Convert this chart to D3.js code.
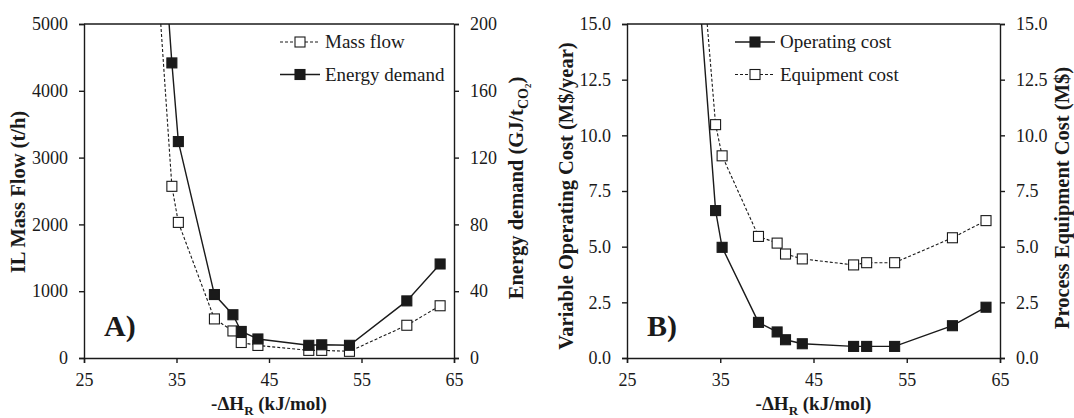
<!DOCTYPE html>
<html><head><meta charset="utf-8">
<script src="https://cdn.jsdelivr.net/npm/d3@7"></script>
<style>
body{margin:0;background:#fff}
svg{font-family:"Liberation Serif","Times New Roman",serif}
</style>
</head><body>
<svg id="c" width="1074" height="418"></svg>
<script>
// ---- data ----
const dH = [34.5, 35.2, 39.1, 41.1, 42.0, 43.8, 49.3, 50.7, 53.7, 59.9, 63.5]; // -ΔH_R (kJ/mol)
const massFlow = [2570, 2030, 585, 405, 232, 188, 114, 114, 100, 490, 782];      // t/h
const energyDemand = [176.7, 129.6, 38.0, 25.9, 15.9, 11.4, 7.6, 7.9, 7.6, 34.2, 56.3]; // GJ/tCO2
const operatingCost = [6.62, 4.97, 1.60, 1.17, 0.82, 0.64, 0.52, 0.52, 0.52, 1.45, 2.28]; // M$/year
const equipmentCost = [10.48, 9.08, 5.46, 5.16, 4.67, 4.45, 4.18, 4.28, 4.28, 5.40, 6.17]; // M$
// where each curve leaves the top of the frame (x, y at the top)
const massFlowExit = [33.3, 5000];
const energyDemandExit = [34.2, 200];
const operatingCostExit = [33.0, 15];
const equipmentCostExit = [33.6, 15];

const xTicks = [25, 35, 45, 55, 65];
const massTicks = [0, 1000, 2000, 3000, 4000, 5000];
const energyTicks = [0, 40, 80, 120, 160, 200];
const costTicks = [0, 2.5, 5, 7.5, 10, 12.5, 15];

const svg = d3.select("#c");
const INK = "#1a1a1a";
const MS = 10; // marker size

function panel(cfg) {
  const g = svg.append("g");
  const x = d3.scaleLinear().domain([25, 65]).range([cfg.left, cfg.right]);
  const yL = d3.scaleLinear().domain(cfg.yLDomain).range([cfg.bottom, cfg.top]);
  const yR = d3.scaleLinear().domain(cfg.yRDomain).range([cfg.bottom, cfg.top]);

  const clipId = "clip" + cfg.id;
  svg.append("clipPath").attr("id", clipId).append("rect")
    .attr("x", cfg.left).attr("y", cfg.top)
    .attr("width", cfg.right - cfg.left).attr("height", cfg.bottom - cfg.top);

  // axes
  const ax = g.append("g").attr("transform", `translate(0,${cfg.bottom})`)
    .call(d3.axisBottom(x).tickValues(xTicks).tickSizeOuter(0).tickSize(5).tickPadding(10));
  const al = g.append("g").attr("transform", `translate(${cfg.left},0)`)
    .call(d3.axisLeft(yL).tickValues(cfg.yLTicks).tickFormat(cfg.fmtL).tickSizeOuter(0).tickSize(5).tickPadding(11));
  const ar = g.append("g").attr("transform", `translate(${cfg.right},0)`)
    .call(d3.axisRight(yR).tickValues(cfg.yRTicks).tickFormat(cfg.fmtR).tickSizeOuter(0).tickSize(5).tickPadding(11));
  g.append("line").attr("x1", cfg.left).attr("x2", cfg.right)
    .attr("y1", cfg.top).attr("y2", cfg.top).attr("stroke", INK).attr("stroke-width", 1.4);
  [ax, al, ar].forEach(a => {
    a.selectAll("path.domain").attr("stroke", INK).attr("stroke-width", 1.4);
    a.selectAll(".tick line").attr("stroke", INK).attr("stroke-width", 1.4);
    a.selectAll(".tick text").attr("fill", INK).style("font-size", "18px")
      .style("font-family", '"Liberation Serif",serif');
  });

  // series
  const plot = g.append("g").attr("clip-path", `url(#${clipId})`);
  cfg.series.forEach(s => {
    const y = s.side === "L" ? yL : yR;
    const pts = [[s.exit[0], s.exit[1]]].concat(dH.map((d, i) => [d, s.values[i]]));
    plot.append("path").datum(pts)
      .attr("fill", "none").attr("stroke", INK)
      .attr("stroke-width", s.filled ? 1.4 : 1.1)
      .attr("stroke-dasharray", s.filled ? null : "3,2")
      .attr("d", d3.line().x(d => x(d[0])).y(d => y(d[1])));
  });
  cfg.series.forEach(s => {
    const y = s.side === "L" ? yL : yR;
    g.append("g").selectAll("rect").data(dH.map((d, i) => [d, s.values[i]])).join("rect")
      .attr("x", d => x(d[0]) - MS / 2).attr("y", d => y(d[1]) - MS / 2)
      .attr("width", MS).attr("height", MS)
      .attr("fill", s.filled ? INK : "#fff").attr("stroke", INK).attr("stroke-width", 1.1);
  });

  // legend
  cfg.series.forEach((s, i) => {
    const ly = cfg.legendY + i * 32.5;
    const lg = g.append("g");
    lg.append("line").attr("x1", cfg.legendX).attr("x2", cfg.legendX + 40)
      .attr("y1", ly).attr("y2", ly).attr("stroke", INK)
      .attr("stroke-width", s.filled ? 1.4 : 1.1).attr("stroke-dasharray", s.filled ? null : "3,2");
    lg.append("rect").attr("x", cfg.legendX + 20 - MS / 2).attr("y", ly - MS / 2)
      .attr("width", MS).attr("height", MS)
      .attr("fill", s.filled ? INK : "#fff").attr("stroke", INK).attr("stroke-width", 1.1);
    lg.append("text").attr("x", cfg.legendX + 45).attr("y", ly + 6)
      .attr("fill", INK).style("font-size", "19px").text(s.name);
  });

  // panel letter
  g.append("text").attr("x", cfg.left + 20).attr("y", cfg.bottom - 22)
    .attr("fill", INK).style("font-size", "30px").style("font-weight", "bold").text(cfg.letter);

  // x title
  const xt = g.append("text").attr("x", (cfg.left + cfg.right) / 2).attr("y", 410)
    .attr("text-anchor", "middle").attr("fill", INK)
    .style("font-size", "19px").style("font-weight", "bold");
  xt.append("tspan").text("-ΔH");
  xt.append("tspan").attr("dy", 5).style("font-size", "13px").text("R");
  xt.append("tspan").attr("dy", -5).text(" (kJ/mol)");

  // y titles
  const lt = g.append("text").attr("transform", `translate(${cfg.lLabelX},${cfg.lLabelY}) rotate(-90)`)
    .attr("text-anchor", "middle").attr("fill", INK)
    .style("font-size", "20.5px").style("font-weight", "bold");
  cfg.lLabel(lt);
  const rt = g.append("text").attr("transform", `translate(${cfg.rLabelX},${cfg.rLabelY}) rotate(-90)`)
    .attr("text-anchor", "middle").attr("fill", INK)
    .style("font-size", "20.5px").style("font-weight", "bold");
  cfg.rLabel(rt);
}

panel({
  id: "A", letter: "A)", left: 84, right: 454, top: 24, bottom: 358,
  yLDomain: [0, 5000], yRDomain: [0, 200], yLTicks: massTicks, yRTicks: energyTicks,
  fmtL: d3.format("d"), fmtR: d3.format("d"),
  legendX: 280, legendY: 42,
  series: [
    {name: "Mass flow", values: massFlow, exit: massFlowExit, side: "L", filled: false},
    {name: "Energy demand", values: energyDemand, exit: energyDemandExit, side: "R", filled: true}
  ],
  lLabelX: 25, lLabelY: 192, rLabelX: 523, rLabelY: 188,
  lLabel: t => t.text("IL Mass Flow (t/h)"),
  rLabel: t => {
    t.append("tspan").text("Energy demand (GJ/t");
    t.append("tspan").attr("dy", 5).style("font-size", "14px").text("CO");
    t.append("tspan").attr("dy", 3).style("font-size", "9px").text("2");
    t.append("tspan").attr("dy", -8).text(")");
  }
});

panel({
  id: "B", letter: "B)", left: 627, right: 1000, top: 24, bottom: 358,
  yLDomain: [0, 15], yRDomain: [0, 15], yLTicks: costTicks, yRTicks: costTicks,
  fmtL: d3.format(".1f"), fmtR: d3.format(".1f"),
  legendX: 735, legendY: 42,
  series: [
    {name: "Operating cost", values: operatingCost, exit: operatingCostExit, side: "L", filled: true},
    {name: "Equipment cost", values: equipmentCost, exit: equipmentCostExit, side: "R", filled: false}
  ],
  lLabelX: 573, lLabelY: 196, rLabelX: 1069, rLabelY: 198,
  lLabel: t => t.text("Variable Operating Cost (M$/year)"),
  rLabel: t => t.text("Process Equipment Cost (M$)")
});
</script>
</body></html>
